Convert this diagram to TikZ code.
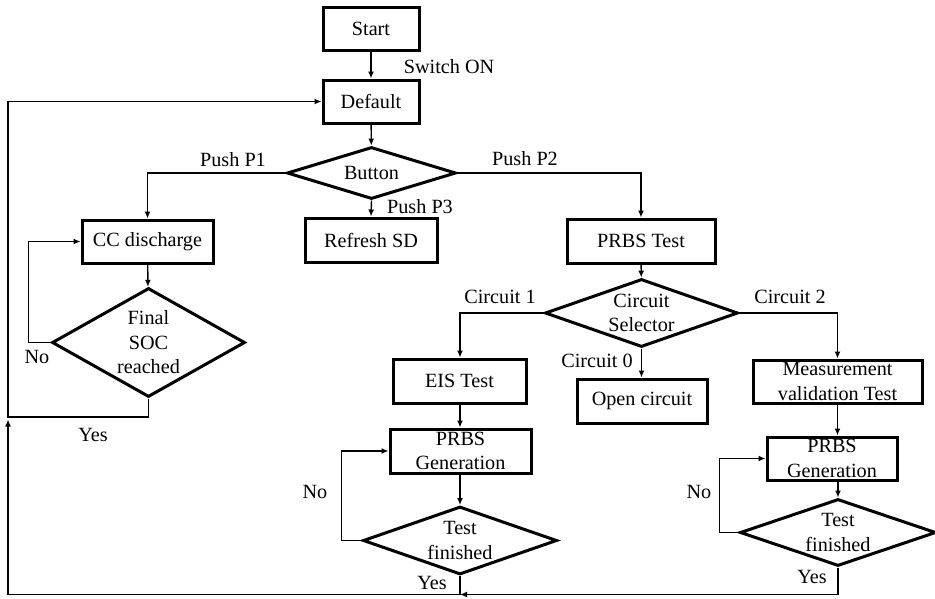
\documentclass[tikz,border=0pt]{standalone}
\usepackage{fontspec}
\setmainfont{Liberation Serif}
\usetikzlibrary{shapes.geometric,arrows.meta,calc}

\tikzset{
  box/.style={draw, line width=3pt, rectangle, inner sep=0pt, align=center},
  decision/.style={draw, line width=3pt, diamond, inner xsep=-20pt, inner ysep=-12pt, align=center},
  flow/.style={line width=1.4pt},
  arrow/.style={flow, -{Latex[length=7pt,width=6pt]}},
  tag/.style={inner sep=0pt, anchor=center},
}

\begin{document}
\begin{tikzpicture}[x=1pt, y=-1pt,
  every node/.append style={font=\fontsize{20.2}{24.5}\selectfont}]
\useasboundingbox (0,0) rectangle (935,598);

% blocks
\node[box, minimum width=96pt, minimum height=43pt] (start) at (371,28.5) {Start};
\node[box, minimum width=96pt, minimum height=43pt] (default) at (371,101.5) {Default};
\node[decision, inner sep=0pt, shape aspect=3.2, minimum width=169pt, minimum height=52pt] (button) at (371.5,173) {Button};
\node[box, minimum width=131pt, minimum height=43pt] (cc) at (147.5,241.5) {CC discharge};
\node[box, minimum width=132pt, minimum height=44pt] (refresh) at (371,240) {Refresh SD};
\node[box, minimum width=148pt, minimum height=44pt] (prbs) at (641,241) {PRBS Test};
\node[decision, shape aspect=1.77, minimum width=193pt, minimum height=109pt] (soc) at (148.5,342.5) {Final\\SOC\\reached};
\node[decision, shape aspect=2.84, minimum width=193pt, minimum height=68pt] (sel) at (641.5,313) {Circuit\\Selector};
\node[box, minimum width=133pt, minimum height=44pt] (eis) at (459.5,381) {EIS Test};
\node[box, minimum width=130pt, minimum height=44pt] (open) at (642,401) {Open circuit};
\node[box, minimum width=169pt, minimum height=43pt] (meas) at (837.5,381.5) {Measurement\\validation Test};
\node[box, minimum width=141pt, minimum height=44pt] (gen1) at (460.5,451) {PRBS\\Generation};
\node[box, minimum width=130pt, minimum height=43pt] (gen2) at (832,458.5) {PRBS\\Generation};
\node[decision, shape aspect=2.85, minimum width=194pt, minimum height=68pt] (tf1) at (460,540.5) {Test\\finished};
\node[decision, shape aspect=2.9, minimum width=196pt, minimum height=67pt] (tf2) at (838,532.5) {Test\\finished};

% return corners on the left and along the bottom, and the left branch column
\coordinate (lb) at (8,417);
\coordinate (bl) at (8,594.5);
\coordinate (col1) at (460,0);

% main flow
\draw[arrow] (start) -- (default);
\draw[arrow] (default) -- (button);
\draw[arrow] (button.west) -| (cc.north);
\draw[arrow] (button.south) -- (refresh.north);
\draw[arrow] (button.east) -| (prbs.north);
\draw[arrow] (cc) -- (soc);
\draw[arrow] (soc.west) -- ++(-22,0) |- (cc.west);
\draw[arrow] (soc.south) |- (lb) |- (default.west);

\draw[arrow] (prbs) -- (sel);
\draw[arrow] (sel.west) -| (col1 |- eis.north);
\draw[arrow] (sel.south) -- (sel.south |- open.north);
\draw[arrow] (sel.east) -| (meas.north);

\draw[arrow] (col1 |- eis.south) -- (col1 |- gen1.north);
\draw[arrow] (gen1.south -| tf1.north) -- (tf1.north);
\draw[arrow] (tf1.west) -- ++(-20,0) |- (gen1.west);

\draw[arrow] (meas.south) -- (meas.south |- gen2.north);
\draw[arrow] (gen2.south -| tf2.north) -- (tf2.north);
\draw[arrow] (tf2.west) -- ++(-19,0) |- (gen2.west);

\draw[arrow] (tf2.south) |- (tf1.south |- bl);
\draw[arrow] (tf1.south) |- (bl) -- ($(lb)+(0,2.5)$);

% labels
\node[tag] (l-on) at (449,67) {Switch ON};
\node[tag] (l-p1) at (233,160) {Push P1};
\node[tag] (l-p2) at (525,159) {Push P2};
\node[tag] (l-p3) at (420,207) {Push P3};
\node[tag] (l-no1) at (37,357) {No};
\node[tag] (l-yes1) at (93,435) {Yes};
\node[tag] (l-c1) at (500,297) {Circuit 1};
\node[tag] (l-c2) at (790,297) {Circuit 2};
\node[tag] (l-c0) at (597,361) {Circuit 0};
\node[tag] (l-no2) at (315,492) {No};
\node[tag] (l-yes2) at (432,583) {Yes};
\node[tag] (l-no3) at (699,492) {No};
\node[tag] (l-yes3) at (812,577) {Yes};
\end{tikzpicture}
\end{document}
